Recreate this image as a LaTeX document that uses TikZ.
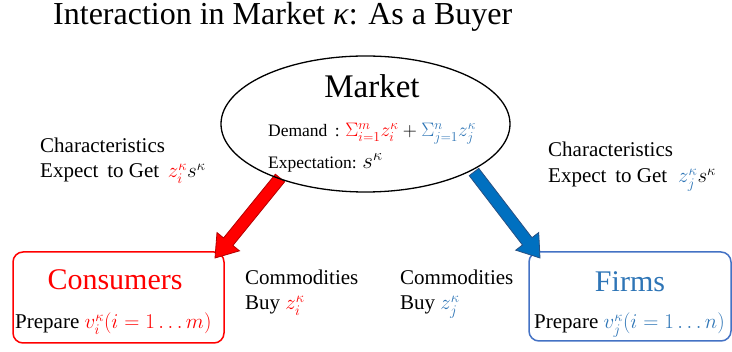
\RequirePackage{fix-cm}
\documentclass[tikz,border=0pt]{standalone}
\usepackage{fontspec}
\setmainfont{Liberation Serif}
\usetikzlibrary{shapes.geometric,calc}
\definecolor{cblue}{RGB}{46,117,182}
\definecolor{bblue}{RGB}{68,114,196}
\definecolor{ablue}{RGB}{0,112,192}
\definecolor{ablueline}{RGB}{40,80,130}
\definecolor{aredline}{RGB}{180,0,0}
\begin{document}
\begin{tikzpicture}[x=1pt,y=-1pt,
  lbl/.style={anchor=base west, inner sep=0pt, font=\fontsize{21}{25}\selectfont},
  lblsm/.style={anchor=base west, inner sep=0pt, font=\fontsize{17.5}{21}\selectfont},
  box/.style={draw, line width=1.5pt, rounded corners=10pt, inner sep=0pt},
  barrow/.style={line width=0.8pt, line join=miter}]
\useasboundingbox (0,0) rectangle (732,352);
\clip (0,0) rectangle (732,352);

% title
\node[anchor=base west, inner sep=0pt, font=\fontsize{32}{38}\selectfont] (title) at (53,25)
  {Interaction in Market \textit{κ}: As a Buyer};

% boxes
\node[box, draw=red, minimum width=211pt, minimum height=91pt] (cons) at (118.5,297.5) {};
\node[box, draw=bblue, minimum width=202pt, minimum height=89pt] (firms) at (630,296.5) {};

\node[anchor=base, inner sep=0pt, font=\fontsize{30}{36}\selectfont, text=red] (consT) at (115,290) {Consumers};
\node[lbl] (consP) at (15,329) {Prepare $\textcolor{red}{v_i^{\kappa}(i=1\ldots m)}$};
\node[anchor=base, inner sep=0pt, font=\fontsize{30}{36}\selectfont, text=cblue] (firmsT) at (630,292) {Firms};
\node[lbl] (firmsP) at (534,329) {Prepare $\textcolor{cblue}{v_j^{\kappa}(i=1\ldots n)}$};

% commodities labels
\node[lbl] (c1a) at (245,285) {Commodities};
\node[lbl] (c1b) at (245,310) {Buy $\textcolor{red}{z_i^{\kappa}}$};
\node[lbl] (c2a) at (400,285) {Commodities};
\node[lbl] (c2b) at (400,310) {Buy $\textcolor{cblue}{z_j^{\kappa}}$};

% characteristics labels
\node[lbl] (ch1a) at (40,153) {Characteristics};
\node[lbl] (ch1b) at (40,178) {Expect\, to Get \,$\textcolor{red}{z_i^{\kappa}}s^{\kappa}$};
\node[lbl] (ch2a) at (548,157) {Characteristics};
\node[lbl] (ch2b) at (548,183) {Expect\, to Get \;$\textcolor{cblue}{z_j^{\kappa}}s^{\kappa}$};

% block arrows
\coordinate (ra) at (280,178);
\coordinate (rb) at (215,258);
\coordinate (rc) at ($(rb)!21pt!(ra)$);
\filldraw[barrow, fill=red, draw=aredline]
  ($(ra)!6pt!90:(rb)$) -- ($(rc)!6pt!90:(rb)$) -- ($(rc)!14.5pt!90:(rb)$) -- (rb)
  -- ($(rc)!14.5pt!-90:(rb)$) -- ($(rc)!6pt!-90:(rb)$) -- ($(ra)!6pt!-90:(rb)$) -- cycle;

\coordinate (ba) at (474,172);
\coordinate (bb) at (540,258);
\coordinate (bc) at ($(bb)!21pt!(ba)$);
\filldraw[barrow, fill=ablue, draw=ablueline]
  ($(ba)!6pt!90:(bb)$) -- ($(bc)!6pt!90:(bb)$) -- ($(bc)!14.5pt!90:(bb)$) -- (bb)
  -- ($(bc)!14.5pt!-90:(bb)$) -- ($(bc)!6pt!-90:(bb)$) -- ($(ba)!6pt!-90:(bb)$) -- cycle;

% market ellipse
\node[ellipse, draw, line width=1.3pt, minimum width=289pt, minimum height=136pt, inner sep=0pt] (market) at (365.5,124) {};
\node[anchor=base, inner sep=0pt, font=\fontsize{33}{40}\selectfont] (mk) at (372,98) {Market};
\node[lblsm] (dem) at (268,137) {Demand\, : {\fontsize{19.5}{23}\selectfont$\textcolor{red}{\Sigma_{i=1}^{m} z_i^{\kappa}} + \textcolor{cblue}{\Sigma_{j=1}^{n} z_j^{\kappa}}$}};
\node[lblsm] (exp) at (268,169) {Expectation: {\fontsize{23}{27}\selectfont$s^{\kappa}$}};
\end{tikzpicture}
\end{document}
